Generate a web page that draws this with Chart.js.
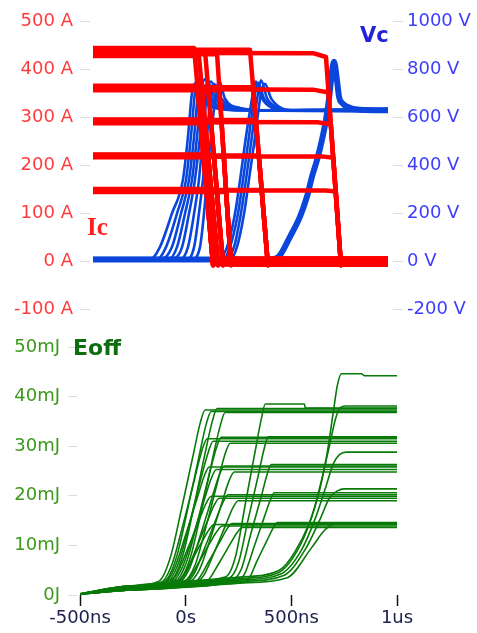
<!DOCTYPE html>
<html>
<head>
<meta charset="utf-8">
<script src="https://cdn.jsdelivr.net/npm/chart.js@4.4.1/dist/chart.umd.min.js"></script>
<style>
  html, body { margin: 0; padding: 0; background: #fff; }
  #wrap { position: relative; width: 477px; height: 633px; }
  canvas { position: absolute; left: 0; top: 0; }
</style>
</head>
<body>
<div id="wrap">
  <canvas id="bottomChart" width="477" height="633"></canvas>
  <canvas id="topChart" width="477" height="633"></canvas>
</div>
<script>
// --- tick values / labels ---
const timeTicks = [-500, 0, 500, 1000];
const timeTickLabels = ['-500ns', '0s', '500ns', '1us'];
const currentTicks = [-100, 0, 100, 200, 300, 400, 500];
const voltageTicks = [-200, 0, 200, 400, 600, 800, 1000];
const energyTicks = [0, 10, 20, 30, 40, 50];

// --- Ic traces [ns, A], one array per current level ---
const ic435 = [
  [[-443,445],[36,445],[126,-8],[151,4],[186,-3],[955,-4]],
  [[-443,428],[59,428],[149,-7],[174,5],[209,2],[955,3]],
  [[-443,438],[88,438],[173,-8],[198,4],[233,-5],[955,-6]],
  [[-443,432],[145,432],[211,-7],[236,5],[271,4],[955,5]],
  [[-443,441],[301,441],[386,-8],[411,4],[446,-2],[955,-2]],
  [[-443,435],[600,434],[661,426],[732,-8],[757,4],[792,1],[955,0]]
];
const ic362 = [
  [[-443,366],[51,366],[126,-7],[151,4],[186,2],[955,2]],
  [[-443,358],[74,358],[149,-8],[174,3],[209,-5],[955,-5]],
  [[-443,364],[102,364],[173,-7],[198,5],[233,4],[955,4]],
  [[-443,357],[156,357],[211,-8],[236,3],[271,-3],[955,-3]],
  [[-443,363],[315,363],[386,-7],[411,5],[446,6],[955,6]],
  [[-443,360],[600,358],[673,352],[732,-7],[757,3],[792,-1],[955,-1]]
];
const ic292 = [
  [[-443,296],[65,296],[126,-8],[151,3],[186,-6],[955,-6]],
  [[-443,288],[89,288],[149,-7],[174,4],[209,1],[955,1]],
  [[-443,294],[116,294],[173,-8],[198,4],[233,5],[955,5]],
  [[-443,290],[166,290],[211,-7],[236,3],[271,-2],[955,-2]],
  [[-443,295],[329,295],[386,-8],[411,4],[446,3],[955,3]],
  [[-443,291],[620,290],[684,286],[732,-8],[757,3],[792,-4],[955,-4]]
];
const ic220 = [
  [[-443,223],[80,223],[126,-7],[151,5],[186,4],[955,4]],
  [[-443,217],[104,217],[149,-8],[174,3],[209,-3],[955,-3]],
  [[-443,222],[130,222],[173,-7],[198,4],[233,-6],[955,-6]],
  [[-443,218],[177,218],[211,-8],[236,4],[271,2],[955,2]],
  [[-443,221],[343,221],[386,-7],[411,3],[446,-1],[955,-1]],
  [[-443,219],[640,219],[696,216],[732,-7],[757,5],[792,5],[955,5]]
];
const ic148 = [
  [[-443,151],[95,151],[126,-8],[151,3],[186,-2],[955,-2]],
  [[-443,146],[118,146],[149,-7],[174,5],[209,6],[955,6]],
  [[-443,150],[144,150],[173,-8],[198,3],[233,-4],[955,-4]],
  [[-443,145],[188,145],[211,-7],[236,4],[271,1],[955,1]],
  [[-443,149],[357,149],[386,-8],[411,3],[446,-5],[955,-5]],
  [[-443,148],[660,148],[708,146],[732,-8],[757,4],[792,3],[955,3]]
];

// --- Vc traces [ns, V] ---
const vcFastA = [
  [[-443,8],[-173,8],[-126,60],[-69,200],[-17,340],[7,520],[26,700],[50,745],[78,680],[135,640],[254,630],[955,630]],
  [[-443,4],[-145,4],[-97,60],[-45,200],[-2,340],[21,520],[40,700],[59,755],[92,680],[149,640],[277,630],[955,634]],
  [[-443,12],[-116,12],[-69,60],[-26,200],[12,340],[36,520],[55,700],[73,740],[107,680],[168,640],[301,630],[955,626]],
  [[-443,7],[-88,7],[-45,60],[-7,200],[26,340],[50,520],[69,700],[88,760],[121,680],[187,640],[325,630],[955,630]],
  [[-443,14],[-59,14],[-21,60],[12,200],[40,340],[64,520],[83,700],[102,745],[135,680],[206,640],[348,630],[955,636]],
  [[-443,8],[-31,8],[7,60],[36,200],[59,340],[78,520],[97,700],[116,750],[149,680],[225,640],[358,630],[955,628]],
  [[-443,3],[-2,3],[36,60],[59,200],[78,340],[97,520],[116,700],[130,740],[164,680],[239,640],[372,630],[955,630]],
  [[-443,10],[26,10],[64,60],[83,200],[97,340],[116,520],[140,700],[154,755],[182,680],[254,640],[386,630],[955,632]]
];
const vcFastB = [
  [[-443,8],[149,8],[192,60],[230,200],[254,340],[282,520],[315,700],[329,750],[358,680],[405,640],[467,630],[955,630]],
  [[-443,5],[168,5],[206,60],[244,200],[268,340],[296,520],[325,700],[339,745],[367,680],[419,640],[481,630],[955,633]],
  [[-443,11],[187,11],[225,60],[258,200],[282,340],[310,520],[339,700],[353,755],[382,680],[434,640],[491,630],[955,627]],
  [[-443,8],[206,8],[239,60],[273,200],[296,340],[325,520],[353,700],[372,740],[401,680],[448,640],[505,630],[955,630]]
];
const vcSlow = [
  [[-443,8],[396,8],[434,17],[491,104],[538,187],[571,270],[595,354],[619,424],[642,507],[661,590],[675,674],[685,757],[699,832],[713,757],[723,686],[737,661],[761,645],[822,632],[955,630]]
];

// --- Eoff traces [ns, mJ] ---
const eoff435 = [
  [[-500,0.2],[-268,1.8],[-126,2.8],[-73,7.5],[-17,17.9],[36,28.3],[69,34.7],[92,37.3],[1000,37.3]],
  [[-500,0.2],[-268,1.8],[-97,2.9],[-45,7.4],[12,17.8],[64,28.1],[97,34.4],[121,37.0],[1000,37.0]],
  [[-500,0.3],[-268,1.8],[-69,3.0],[-17,7.5],[40,18.0],[92,28.6],[126,35.0],[149,37.6],[1000,37.6]],
  [[-500,0.2],[-268,1.8],[-31,3.1],[21,7.4],[78,17.7],[130,28.0],[164,34.2],[187,36.8],[1000,36.8]],
  [[-500,0.2],[-268,1.8],[187,3.6],[235,7.6],[282,18.3],[329,29.0],[358,35.5],[377,38.5],[562,38.5],[566,37.7],[1000,37.7]],
  [[-500,0.2],[-268,1.8],[254,3.6],[443,5.0],[514,8.5],[585,14.5],[633,21.0],[671,29.0],[699,37.0],[718,42.3],[737,44.6],[832,44.6],[846,44.2],[1000,44.2]]
];
const eoff362 = [
  [[-500,0.2],[-268,1.6],[-116,2.5],[-64,6.3],[-7,15.1],[45,23.9],[78,29.3],[102,31.5],[1000,31.5]],
  [[-500,0.2],[-268,1.6],[-88,2.6],[-36,6.2],[21,14.9],[73,23.6],[107,28.8],[130,31.0],[1000,31.0]],
  [[-500,0.2],[-268,1.6],[-50,2.7],[2,6.4],[59,15.3],[111,24.2],[145,29.6],[168,31.8],[1000,31.8]],
  [[-500,0.2],[-268,1.6],[-7,2.8],[45,6.1],[102,14.7],[154,23.3],[187,28.5],[211,30.6],[1000,30.6]],
  [[-500,0.2],[-268,1.6],[201,3.3],[249,6.4],[296,15.3],[344,24.2],[372,29.6],[391,31.9],[1000,31.9]],
  [[-500,0.2],[-268,1.6],[254,3.3],[443,4.6],[529,9.0],[595,15.5],[642,23.0],[680,30.0],[709,35.5],[732,37.8],[756,38.1],[1000,38.1]]
];
const eoff292 = [
  [[-500,0.2],[-268,1.4],[-107,2.2],[-55,5.2],[2,12.4],[55,19.6],[88,24.0],[111,25.8],[1000,25.8]],
  [[-500,0.2],[-268,1.4],[-73,2.3],[-21,5.1],[36,12.1],[88,19.2],[121,23.5],[145,25.3],[1000,25.3]],
  [[-500,0.2],[-268,1.4],[-36,2.4],[17,5.2],[73,12.5],[126,19.8],[159,24.2],[182,26.0],[1000,26.0]],
  [[-500,0.2],[-268,1.4],[12,2.5],[64,5.0],[121,11.9],[173,18.8],[206,23.1],[230,24.8],[1000,24.8]],
  [[-500,0.2],[-268,1.4],[216,3.0],[263,5.2],[310,12.6],[358,19.9],[386,24.4],[405,26.3],[1000,26.3]],
  [[-500,0.2],[-268,1.4],[254,3.0],[453,4.3],[547,9.0],[614,15.5],[661,21.5],[699,26.5],[728,28.3],[761,28.8],[1000,28.8]]
];
const eoff220 = [
  [[-500,0.2],[-268,1.2],[-97,1.9],[-45,4.0],[12,9.6],[64,15.1],[97,18.5],[121,19.9],[1000,19.9]],
  [[-500,0.2],[-268,1.2],[-59,2.0],[-7,3.9],[50,9.4],[102,14.8],[135,18.1],[159,19.5],[1000,19.5]],
  [[-500,0.2],[-268,1.2],[-17,2.1],[36,4.0],[92,9.7],[145,15.4],[178,18.8],[201,20.2],[1000,20.2]],
  [[-500,0.2],[-268,1.2],[31,2.2],[83,3.8],[140,9.1],[192,14.4],[225,17.7],[249,19.0],[1000,19.0]],
  [[-500,0.2],[-268,1.2],[230,2.7],[277,4.1],[325,9.9],[372,15.7],[401,19.2],[419,20.6],[1000,20.6]],
  [[-500,0.2],[-268,1.2],[254,2.7],[467,4.0],[566,9.2],[633,15.0],[680,19.5],[718,21.0],[751,21.4],[1000,21.4]]
];
const eoff148 = [
  [[-500,0.2],[-268,1.0],[-83,1.6],[-31,2.8],[26,6.8],[78,10.8],[111,13.2],[135,14.2],[1000,14.2]],
  [[-500,0.2],[-268,1.0],[-45,1.7],[7,2.8],[64,6.7],[116,10.6],[149,12.9],[173,13.9],[1000,13.9]],
  [[-500,0.2],[-268,1.0],[2,1.8],[55,2.9],[111,6.9],[164,10.9],[197,13.4],[220,14.4],[1000,14.4]],
  [[-500,0.2],[-268,1.0],[50,1.9],[102,2.7],[159,6.5],[211,10.3],[244,12.6],[268,13.6],[1000,13.6]],
  [[-500,0.2],[-268,1.0],[244,2.4],[292,2.9],[339,7.0],[386,11.1],[415,13.6],[434,14.6],[1000,14.6]],
  [[-500,0.2],[-268,1.0],[254,2.4],[481,3.5],[595,9.5],[656,13.0],[694,14.2],[751,14.5],[1000,14.5]]
];

Chart.defaults.font.family = '"DejaVu Sans", Verdana, sans-serif';
Chart.defaults.font.size = 18;

const RED = '#ff0000';
const BLUE = '#0a46dc';
const GREEN = '#087a08';

const toPts = tr => tr.map(p => ({ x: p[0], y: p[1] }));
const line = (tr, color, width, axis, order, tension) => ({
    data: toPts(tr),
    borderColor: color,
    borderWidth: width,
    borderJoinStyle: 'round',
    yAxisID: axis,
    pointRadius: 0,
    fill: false,
    tension: tension,
    cubicInterpolationMode: tension ? 'monotone' : 'default',
    order: order
});

const setTicks = arr => scale => { scale.ticks = arr.map(v => ({ value: v })); };

// draws the Ic / Vc / Eoff captions
const captions = (items) => ({
    id: 'captions',
    afterDraw(chart) {
        const c = chart.ctx;
        items.forEach(it => {
            c.save();
            c.font = it.font;
            c.fillStyle = it.color;
            c.textBaseline = 'alphabetic';
            c.fillText(it.text, it.x, it.y);
            c.restore();
        });
    }
});

// --- top chart: Ic + Vc ---
const topSets = [];
[ic435, ic362, ic292, ic220, ic148].forEach(level =>
    level.forEach(tr => topSets.push(line(tr, RED, 4.5, 'y', 0, 0))));
vcFastA.forEach(tr => topSets.push(line(tr, BLUE, 2.6, 'y2', 1, 0.3)));
vcFastB.forEach(tr => topSets.push(line(tr, BLUE, 2.6, 'y2', 1, 0.3)));
vcSlow.forEach(tr => topSets.push(line(tr, BLUE, 6, 'y2', 1, 0.3)));

new Chart(document.getElementById('topChart'), {
    type: 'line',
    data: { datasets: topSets },
    options: {
        responsive: false,
        animation: false,
        events: [],
        layout: { padding: { top: 21.5, bottom: 323.5, left: 0, right: 0 } },
        plugins: { legend: { display: false }, tooltip: { enabled: false } },
        scales: {
            x: { type: 'linear', min: -443, max: 955, display: false },
            y: {
                position: 'left', min: -100, max: 500,
                afterBuildTicks: setTicks(currentTicks),
                afterFit: s => { s.width = 93; },
                grid: { drawOnChartArea: false, tickLength: 13, tickColor: '#dcdcdc', tickBorderDash: [10, 3] },
                border: { display: false },
                ticks: { color: '#ff3b3b', padding: 7, callback: v => v + ' A' }
            },
            y2: {
                position: 'right', min: -200, max: 1000,
                afterBuildTicks: setTicks(voltageTicks),
                afterFit: s => { s.width = 89; },
                grid: { drawOnChartArea: false, tickLength: 15, tickColor: '#dcdcdc', tickBorderDash: [0, 5, 10, 100] },
                border: { display: false },
                ticks: { color: '#3d3dff', padding: 4, callback: v => v + ' V' }
            }
        }
    },
    plugins: [captions([
        { text: 'Ic', x: 87, y: 235, font: 'bold 25px "Liberation Serif", serif', color: '#ff2020' },
        { text: 'Vc', x: 360, y: 42, font: 'bold 21px "DejaVu Sans", sans-serif', color: '#2222d8' }
    ])]
});

// --- bottom chart: Eoff ---
const bottomSets = [];
[eoff435, eoff362, eoff292, eoff220, eoff148].forEach(level =>
    level.forEach(tr => bottomSets.push(line(tr, GREEN, 1.6, 'y', 0, 0.3))));

new Chart(document.getElementById('bottomChart'), {
    type: 'line',
    data: { datasets: bottomSets },
    options: {
        responsive: false,
        animation: false,
        events: [],
        layout: { padding: { top: 347, bottom: 0, left: 0, right: 80 } },
        plugins: { legend: { display: false }, tooltip: { enabled: false } },
        scales: {
            x: {
                type: 'linear', min: -500, max: 1000,
                afterBuildTicks: setTicks(timeTicks),
                afterFit: s => { s.height = 38; },
                grid: { drawOnChartArea: false, tickLength: 11, tickColor: '#111', tickWidth: 1.5 },
                border: { display: false },
                ticks: { color: '#202050', padding: 2, maxRotation: 0, autoSkip: false,
                         callback: (v, i) => timeTickLabels[i] }
            },
            y: {
                min: 0, max: 50,
                afterBuildTicks: setTicks(energyTicks),
                afterFit: s => { s.width = 80; },
                grid: { drawOnChartArea: false, tickLength: 12, tickColor: '#dcdcdc', tickBorderDash: [9, 3] },
                border: { display: false },
                ticks: { color: '#3a9a1a', padding: 8, callback: v => v === 0 ? '0J' : v + 'mJ' }
            }
        }
    },
    plugins: [captions([
        { text: 'Eoff', x: 73, y: 355, font: 'bold 22px "DejaVu Sans", sans-serif', color: '#0e6e0e' }
    ])]
});
</script>
</body>
</html>
